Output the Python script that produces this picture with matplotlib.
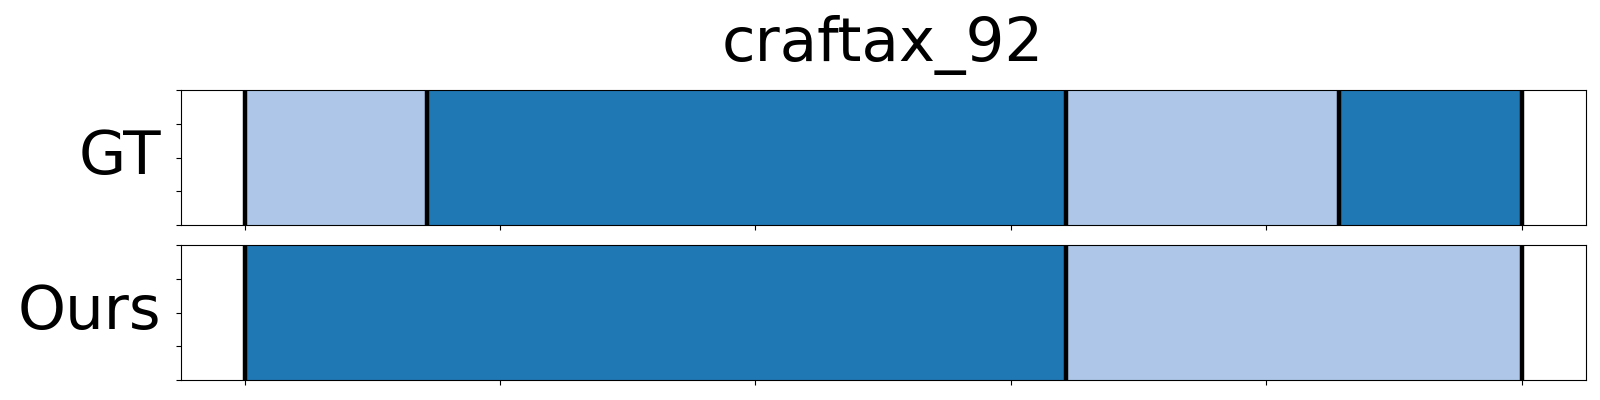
import matplotlib
matplotlib.use("Agg")
import matplotlib.pyplot as plt
import numpy as np

TITLE = "craftax_92"
ROWS = ["GT", "Ours"]
TOTAL = 100
# segment boundaries (frames) and class of each segment
GT_BOUNDS = [0, 14.3, 64.3, 85.7, 100]
GT_CLASSES = [0, 1, 0, 1]
OURS_BOUNDS = [0, 64.3, 100]
OURS_CLASSES = [1, 0]
COLORS = ["#aec7e8", "#1f77b4"]


def draw_row(ax, bounds, classes, label):
    starts = np.array(bounds[:-1])
    widths = np.diff(bounds)
    ax.barh(0.5, widths, left=starts, height=1.0, color=[COLORS[c] for c in classes],
            edgecolor="none")
    for b in bounds:
        ax.axvline(b, color="black", linewidth=3.2)
    ax.set_xlim(-0.05 * TOTAL, 1.05 * TOTAL)
    ax.set_ylim(0, 1)
    ax.set_yticks(np.linspace(0, 1, 5))
    ax.set_xticks(np.linspace(0, TOTAL, 6))
    ax.set_yticklabels([])
    ax.set_xticklabels([])
    ax.set_ylabel(label, rotation=0, fontsize=44, ha="right", va="center", labelpad=7)


fig = plt.figure(figsize=(16, 4), dpi=100)
ax1 = fig.add_axes([0.113, 0.4375, 0.878, 0.3375])
ax2 = fig.add_axes([0.113, 0.05, 0.878, 0.3375])
draw_row(ax1, GT_BOUNDS, GT_CLASSES, ROWS[0])
draw_row(ax2, OURS_BOUNDS, OURS_CLASSES, ROWS[1])
ax1.set_title(TITLE, fontsize=44, pad=21)
fig.savefig("out.png", dpi=100, facecolor="white")
